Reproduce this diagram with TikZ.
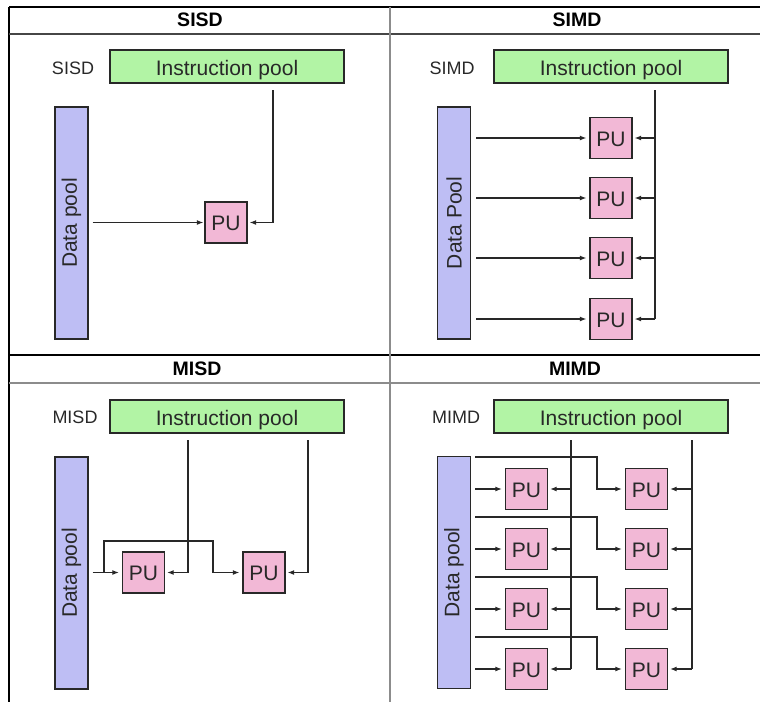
\documentclass[tikz,border=0pt]{standalone}
\usepackage{fontspec}
\setmainfont{Liberation Sans}
\usetikzlibrary{arrows.meta}

\definecolor{ipgreen}{RGB}{178,244,165}
\definecolor{dpblue}{RGB}{190,190,244}
\definecolor{pupink}{RGB}{242,184,214}
\definecolor{ink}{RGB}{40,40,40}
\definecolor{rule}{RGB}{140,140,140}
\definecolor{darkrule}{RGB}{70,70,70}

\tikzset{
  box/.style={draw=ink, line width=1.3pt, inner sep=0pt, text=ink,
    font=\fontsize{21}{24}\selectfont},
  instr/.style={box, fill=ipgreen, minimum width=234, minimum height=33,
    text height=18pt, text depth=0pt},
  datap/.style={box, fill=dpblue, minimum width=33, minimum height=232},
  pubox/.style={box, fill=pupink, minimum width=42, minimum height=41,
    text height=16pt, text depth=0pt},
  tag/.style={text=ink, font=\fontsize{18}{20}\selectfont, inner sep=0pt},
  title/.style={text=black, font=\fontsize{19.5}{22}\selectfont\bfseries, inner sep=0pt},
  wire/.style={draw=ink, line width=1.2pt},
  arr/.style={wire, -{Latex[length=6.5pt,width=5pt]}},
}

\begin{document}
\begin{tikzpicture}[x=1pt,y=-1pt]
\useasboundingbox (0,0) rectangle (760,702);

% ---------- frame ----------
\draw[black, line width=1.2pt] (9,7) -- (760,7);
\draw[black, line width=1.2pt] (9,7) -- (9,702);
\draw[black, line width=1.4pt] (9,355) -- (760,355);
\draw[darkrule, line width=1.6pt] (9,34) -- (760,34);
\draw[rule, line width=2pt] (9,383) -- (760,383);
\draw[rule, line width=2.5pt] (390,7) -- (390,702);

\node[title] (hSISD) at (200,20) {SISD};
\node[title] (hSIMD) at (577,20) {SIMD};
\node[title] (hMISD) at (197,369) {MISD};
\node[title] (hMIMD) at (575,369) {MIMD};

% ---------- SISD ----------
\node[tag] (lSISD) at (73,68) {SISD};
\node[instr] (ipA) at (227,66.5) {Instruction pool};
\node[datap] (dpA) at (71.5,223) {\rotatebox{90}{Data pool}};
\node[pubox] (puA) at (226,222.5) {PU};
\coordinate (tA) at (273,90);
\draw[arr, shorten >=2pt] (tA) |- (puA.east);
\draw[arr, shorten <=4pt, shorten >=1pt] (dpA.east |- puA) -- (puA.west);

% ---------- SIMD ----------
\node[tag] (lSIMD) at (452,68) {SIMD};
\node[instr] (ipB) at (611,66.5) {Instruction pool};
\node[datap] (dpB) at (454,223) {\rotatebox{90}{Data Pool}};
\foreach \i/\y in {1/138,2/198,3/258,4/319}
  \node[pubox] (puB\i) at (611,\y) {PU};
\coordinate (tB) at (655,90);
\draw[wire] (tB) -- (tB |- puB4.east);
\foreach \i in {1,...,4}{
  \draw[arr, shorten >=2pt] (tB |- puB\i.east) -- (puB\i.east);
  \draw[arr, shorten <=5pt, shorten >=3pt] (dpB.east |- puB\i) -- (puB\i.west);
}

% ---------- MISD ----------
\node[tag] (lMISD) at (75,417) {MISD};
\node[instr] (ipC) at (227,416.5) {Instruction pool};
\node[datap] (dpC) at (71.5,573) {\rotatebox{90}{Data pool}};
\node[pubox] (puC1) at (143.5,572.5) {PU};
\node[pubox] (puC2) at (264,572.5) {PU};
\coordinate (tC1) at (188,440);
\coordinate (tC2) at (308,440);
\draw[arr, shorten >=2pt] (tC1) |- (puC1.east);
\draw[arr, shorten >=2pt] (tC2) |- (puC2.east);
\draw[arr, shorten <=4pt, shorten >=3pt] (dpC.east |- puC1) -- (puC1.west);
\coordinate (sC) at (104,572.5);
\draw[arr, shorten >=3pt] (sC) -- (104,541) -- (213,541) |- (puC2.west);

% ---------- MIMD ----------
\node[tag] (lMIMD) at (456,417) {MIMD};
\node[instr] (ipD) at (611,416.5) {Instruction pool};
\node[datap] (dpD) at (454,572.5) {\rotatebox{90}{Data pool}};
\foreach \i/\y in {1/489,2/549,3/609,4/669}{
  \node[pubox] (puDa\i) at (526.5,\y) {PU};
  \node[pubox] (puDb\i) at (646.5,\y) {PU};
}
\coordinate (tD1) at (571,440);
\coordinate (tD2) at (692,440);
\draw[wire] (tD1) -- (tD1 |- puDa4.east);
\draw[wire] (tD2) -- (tD2 |- puDb4.east);
\foreach \i in {1,...,4}{
  \draw[arr, shorten >=2pt] (tD1 |- puDa\i.east) -- (puDa\i.east);
  \draw[arr, shorten >=2pt] (tD2 |- puDb\i.east) -- (puDb\i.east);
  \draw[arr, shorten <=4pt, shorten >=3pt] (dpD.east |- puDa\i) -- (puDa\i.west);
  \draw[arr, shorten <=4pt, shorten >=3pt]
    ([yshift=32pt]dpD.east |- puDa\i) -| (597,0 |- puDb\i) -- (puDb\i.west);
}
\end{tikzpicture}
\end{document}
